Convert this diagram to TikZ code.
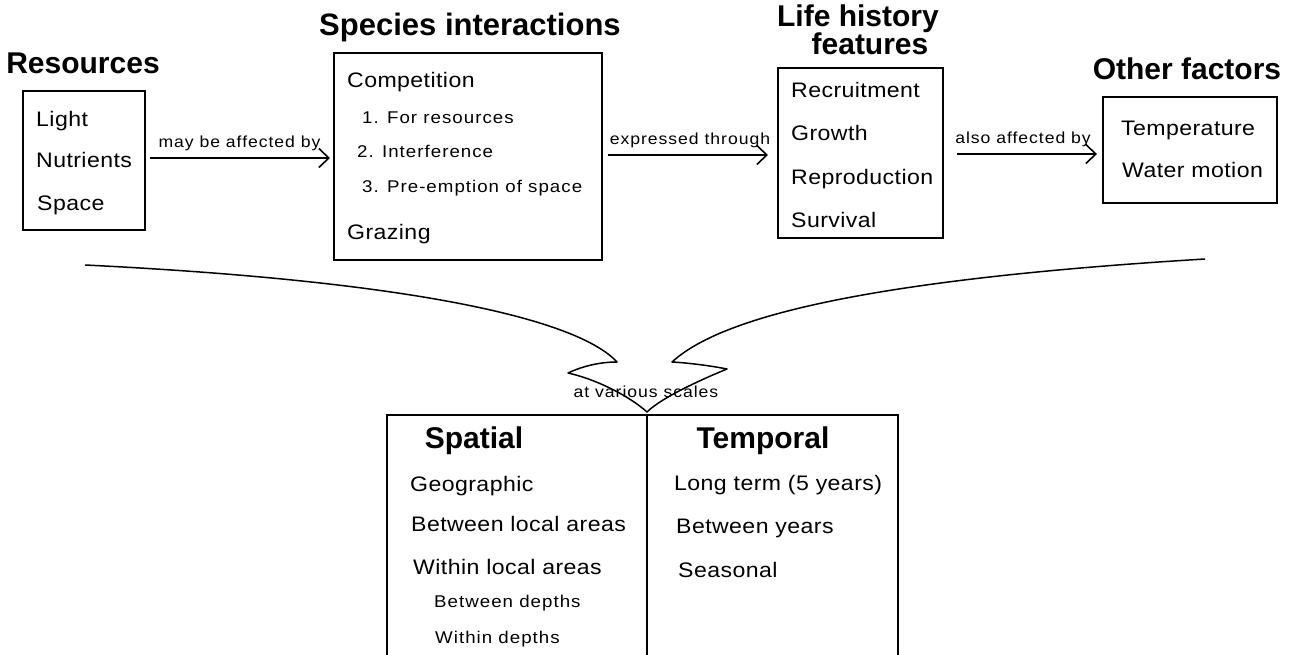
\documentclass[tikz,border=0pt]{standalone}
\usepackage{fontspec}
\setmainfont{Liberation Sans}
\newfontfamily\itemfam{Liberation Sans}[FakeStretch=1.1, LetterSpace=2]
\newfontfamily\subfam{Liberation Sans}[FakeStretch=1.1, LetterSpace=6]
\newfontfamily\linkfam{Liberation Sans}[FakeStretch=1.1, LetterSpace=6]
\usetikzlibrary{arrows.meta}

\newcommand{\headsize}{\fontsize{30}{34}\selectfont\bfseries}
\newcommand{\itemsize}{\itemfam\fontsize{21}{25}\selectfont}
\newcommand{\subsize}{\subfam\fontsize{17}{20}\selectfont}
\newcommand{\linksize}{\linkfam\fontsize{16}{19}\selectfont}

\begin{document}
\begin{tikzpicture}
    [
        x=1pt, y=-1pt,
        box/.style = {draw, shape=rectangle, line width=1.8pt, inner sep=0pt, outer sep=0pt},
        heading/.style = {font=\headsize, anchor=base, inner sep=0pt},
        item/.style = {font=\itemsize, anchor=base west, inner sep=0pt},
        subitem/.style = {font=\subsize, anchor=base west, inner sep=0pt},
        link/.style = {line width=1.6pt, -{Straight Barb[length=10pt, width=19pt]}},
        linklabel/.style = {font=\linksize, midway, above=6pt, inner sep=0pt},
        bigarrow/.style = {line width=1.5pt, line join=round},
    ]

    \useasboundingbox (0,0) rectangle (1298,655);

    % resources
    \node[heading] (rest) at (83,74) {Resources};
    \node[box, minimum width=122pt, minimum height=139pt] (res) at (84,160.5) {};
    \node[item] (light) at (36,127) {Light};
    \node[item] (nutr) at (36,168) {Nutrients};
    \node[item] (space) at (37,211) {Space};

    % species interactions
    \node[heading, font=\fontsize{31}{34}\selectfont\bfseries] (spect) at (470,36) {Species interactions};
    \node[box, minimum width=268pt, minimum height=207pt] (spec) at (468,156.5) {};
    \node[item] (comp) at (347,88) {Competition};
    \node[subitem] (forres) at (362,124) {1. For resources};
    \node[subitem] (interf) at (357,158) {2. Interference};
    \node[subitem] (preempt) at (362,193) {3. Pre-emption of space};
    \node[item] (graz) at (347,240) {Grazing};

    % life history features
    \node[heading] (lifet) at (858,27) {Life history};
    \node[heading] (lifet2) at (870,55) {features};
    \node[box, minimum width=165pt, minimum height=170pt] (life) at (860.5,153) {};
    \node[item] (recr) at (791,98) {Recruitment};
    \node[item] (grow) at (791,141) {Growth};
    \node[item] (repr) at (791,185) {Reproduction};
    \node[item] (surv) at (791,228) {Survival};

    % other factors
    \node[heading] (otht) at (1187,80) {Other factors};
    \node[box, minimum width=174pt, minimum height=106pt] (oth) at (1190,150) {};
    \node[item] (temper) at (1121,136) {Temperature};
    \node[item] (water) at (1122,178) {Water motion};

    % links
    \draw[link, shorten <=5pt, shorten >=4pt] (res.east |- 0,158) -- (spec.west |- 0,158)
        node[linklabel] {may be affected by};
    \draw[link, shorten <=6pt, shorten >=10pt] (spec.east |- 0,155) -- (life.west |- 0,155)
        node[linklabel] {expressed through};
    \draw[link, shorten <=14pt, shorten >=6pt] (life.east |- 0,154) -- (oth.west |- 0,154)
        node[linklabel] {also affected by};

    % scales
    \node[box, minimum width=260pt, minimum height=250pt] (spat) at (517,540) {};
    \node[box, minimum width=251pt, minimum height=250pt] (temp) at (772.5,540) {};
    \node[heading] (spatt) at (474,448) {Spatial};
    \node[heading] (tempt) at (763,448) {Temporal};
    \node[item] (geo) at (410,491) {Geographic};
    \node[item] (betloc) at (411,531) {Between local areas};
    \node[item] (witloc) at (413,574) {Within local areas};
    \node[subitem] (betdep) at (434,607) {Between depths};
    \node[subitem] (witdep) at (435,643) {Within depths};
    \node[item] (longt) at (674,490) {Long term (5 years)};
    \node[item] (betyr) at (676,533) {Between years};
    \node[item] (seas) at (678,577) {Seasonal};

    % big arrow
    \coordinate (lfrom) at (85,265);
    \coordinate (ltip) at (617,362);
    \coordinate (lbarb) at (568,373);
    \coordinate (rtip) at (672,362);
    \coordinate (rbarb) at (727,369);
    \coordinate (rfrom) at (1205,259);
    \draw[bigarrow] (lfrom) .. controls (430,282) and (580,322) .. (ltip)
        .. controls (600,362) and (583,366) .. (lbarb)
        .. controls (595,379) and (628,395) .. ([yshift=3pt]spat.north east)
        .. controls (662,397) and (705,378) .. (rbarb)
        .. controls (712,366) and (690,363) .. (rtip)
        .. controls (720,318) and (860,280) .. (rfrom);
    \node[font=\linksize, anchor=base, inner sep=0pt] (scales) at (646,397) {at various scales};
\end{tikzpicture}
\end{document}
